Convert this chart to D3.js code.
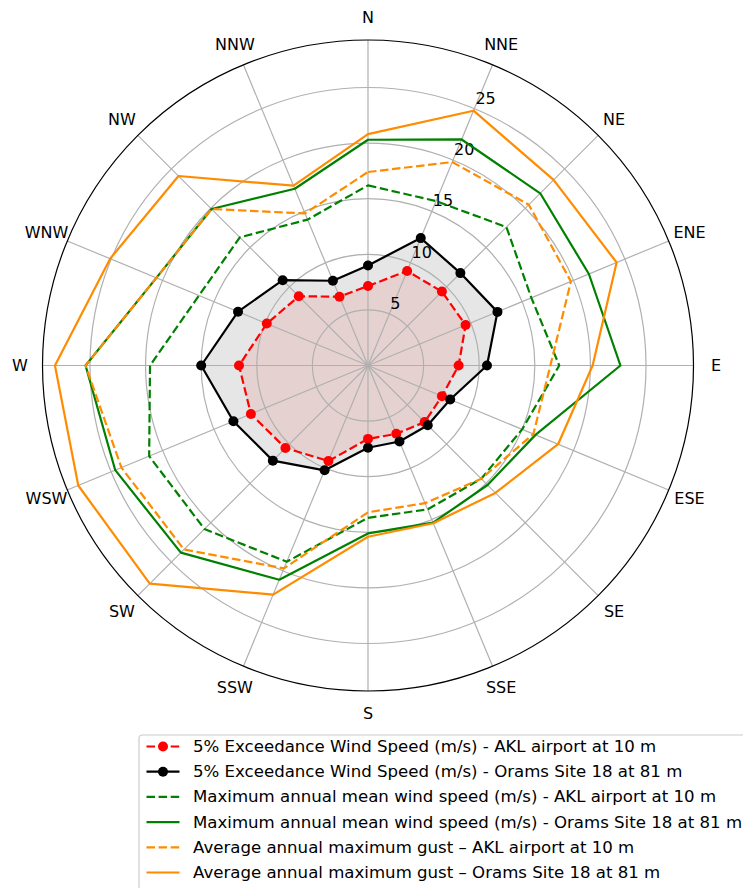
<!DOCTYPE html>
<html>
<head>
<meta charset="utf-8">
<script src="https://cdn.jsdelivr.net/npm/d3@7"></script>
<style>
  html, body { margin: 0; padding: 0; background: #ffffff; }
  svg { display: block; }
  text { font-family: "DejaVu Sans", sans-serif; }
</style>
</head>
<body>
<div id="chart"></div>
<script>
// ---------------- data ----------------
const directions = ["N","NNE","NE","ENE","E","ESE","SE","SSE","S","SSW","SW","WSW","W","WNW","NW","NNW"];
const radialTicks = [5, 10, 15, 20, 25];

const exceed5AKL   = [7.15, 9.2, 9.4, 9.5, 8.15, 7.2, 7.2, 6.65, 6.6, 9.3, 10.5, 11.4, 11.6, 9.85, 8.8, 6.7];
const exceed5Orams = [9.0, 12.4, 11.75, 12.6, 10.7, 8.0, 7.6, 7.4, 7.4, 10.2, 12.1, 13.1, 15.0, 12.65, 10.85, 8.25];
const maxMeanAKL   = [16.2, 16.0, 17.6, 15.9, 17.2, 15.0, 14.4, 14.0, 13.7, 19.1, 20.8, 21.3, 19.6, 16.45, 16.3, 14.2];
const maxMeanOrams = [20.3, 22.0, 21.9, 21.5, 22.7, 16.3, 15.2, 15.3, 15.1, 20.85, 23.8, 24.6, 25.4, 20.6, 19.9, 17.2];
const gustAKL      = [17.4, 19.8, 20.45, 19.75, 16.4, 16.1, 14.4, 13.4, 13.2, 19.75, 23.4, 24.0, 25.4, 20.6, 19.9, 14.8];
const gustOrams    = [20.8, 24.8, 23.6, 24.2, 20.2, 18.5, 16.2, 15.35, 15.4, 22.3, 27.75, 28.2, 28.15, 25.1, 24.1, 17.5];

const seriesLabels = [
  "5% Exceedance Wind Speed (m/s) - AKL airport at 10 m",
  "5% Exceedance Wind Speed (m/s) - Orams Site 18 at 81 m",
  "Maximum annual mean wind speed (m/s) - AKL airport at 10 m",
  "Maximum annual mean wind speed (m/s) - Orams Site 18 at 81 m",
  "Average annual maximum gust \u2013 AKL airport at 10 m",
  "Average annual maximum gust \u2013 Orams Site 18 at 81 m"
];
const seriesValues = [exceed5AKL, exceed5Orams, maxMeanAKL, maxMeanOrams, gustAKL, gustOrams];
const seriesColors = ["#ff0000", "#000000", "#008000", "#008000", "#ff8c00", "#ff8c00"];
const seriesDashed = [true, false, true, false, true, false];
const seriesMarker = [true, true, false, false, false, false];

// ---------------- layout ----------------
const W = 743, H = 888;
const cx = 368, cy = 365.5;
const outerR = 325.5;
const rMax = 29.27;
const labelR = 348;
const axFont = 16;
const legFont = 16.6;
const lw = 2.2;
const dash = "8.5,3.6";

const svg = d3.select("#chart").append("svg")
  .attr("width", W).attr("height", H)
  .attr("viewBox", `0 0 ${W} ${H}`);
svg.append("rect").attr("width", W).attr("height", H).attr("fill", "#fff");

const g = svg.append("g").attr("transform", `translate(${cx},${cy})`);

const r = d3.scaleLinear().domain([0, rMax]).range([0, outerR]);
const theta = d3.scalePoint().domain(directions).range([0, 2 * Math.PI * 15 / 16]);

const px = (a, rr) => rr * Math.sin(a);
const py = (a, rr) => -rr * Math.cos(a);

const radial = d3.lineRadial()
  .angle(d => theta(d.dir))
  .radius(d => r(d.v))
  .curve(d3.curveLinearClosed);

const pts = vals => directions.map((dir, i) => ({dir, v: vals[i]}));

// fills
g.append("path").attr("d", radial(pts(exceed5AKL)))
  .attr("fill", "#ff0000").attr("fill-opacity", 0.1).attr("stroke", "none");
g.append("path").attr("d", radial(pts(exceed5Orams)))
  .attr("fill", "#808080").attr("fill-opacity", 0.2).attr("stroke", "none");

// grid
const grid = g.append("g");
grid.selectAll("circle.rg").data(radialTicks).enter().append("circle")
  .attr("r", d => r(d)).attr("fill", "none")
  .attr("stroke", "#b0b0b0").attr("stroke-width", 1.2);
grid.selectAll("line.spoke").data(directions).enter().append("line")
  .attr("x1", 0).attr("y1", 0)
  .attr("x2", d => px(theta(d), outerR)).attr("y2", d => py(theta(d), outerR))
  .attr("stroke", "#b0b0b0").attr("stroke-width", 1.2);

// outer frame
g.append("circle").attr("r", outerR).attr("fill", "none")
  .attr("stroke", "#000").attr("stroke-width", 1.2);

// radial tick labels at 22.5 deg
const labA = Math.PI / 8;
g.selectAll("text.rt").data(radialTicks).enter().append("text")
  .attr("x", d => px(labA, r(d)) + 1)
  .attr("y", d => py(labA, r(d)) - 5)
  .attr("font-size", axFont).attr("fill", "#000")
  .attr("text-anchor", "start")
  .text(d => d);

// direction labels
g.selectAll("text.dir").data(directions).enter().append("text")
  .attr("x", d => px(theta(d), labelR))
  .attr("y", d => py(theta(d), labelR))
  .attr("font-size", axFont).attr("fill", "#000")
  .attr("text-anchor", "middle").attr("dominant-baseline", "central")
  .text(d => d);

// series lines
seriesValues.forEach((vals, k) => {
  g.append("path").attr("d", radial(pts(vals)))
    .attr("fill", "none")
    .attr("stroke", seriesColors[k]).attr("stroke-width", lw)
    .attr("stroke-dasharray", seriesDashed[k] ? dash : null)
    .attr("stroke-linejoin", "round");
  if (seriesMarker[k]) {
    g.selectAll(null).data(pts(vals)).enter().append("circle")
      .attr("cx", d => px(theta(d.dir), r(d.v)))
      .attr("cy", d => py(theta(d.dir), r(d.v)))
      .attr("r", 5).attr("fill", seriesColors[k]).attr("stroke", "none");
  }
});

// legend
const leg = svg.append("g").attr("transform", "translate(139,735)");
leg.append("rect").attr("x", 0).attr("y", 0).attr("width", 640).attr("height", 170)
  .attr("rx", 3).attr("fill", "#fff").attr("fill-opacity", 0.8)
  .attr("stroke", "#cccccc").attr("stroke-width", 1.2);
const rowY = d3.scaleLinear().domain([0, 1]).range([11.5, 36.7]);
seriesLabels.forEach((lab, k) => {
  const y = rowY(k);
  leg.append("line").attr("x1", 7.5).attr("x2", 40.5).attr("y1", y).attr("y2", y)
    .attr("stroke", seriesColors[k]).attr("stroke-width", lw)
    .attr("stroke-dasharray", seriesDashed[k] ? dash : null);
  if (seriesMarker[k]) {
    leg.append("circle").attr("cx", 24).attr("cy", y).attr("r", 5).attr("fill", seriesColors[k]);
  }
  leg.append("text").attr("x", 54).attr("y", y).attr("dominant-baseline", "central")
    .attr("font-size", legFont).attr("fill", "#000").text(lab);
});
</script>
</body>
</html>
